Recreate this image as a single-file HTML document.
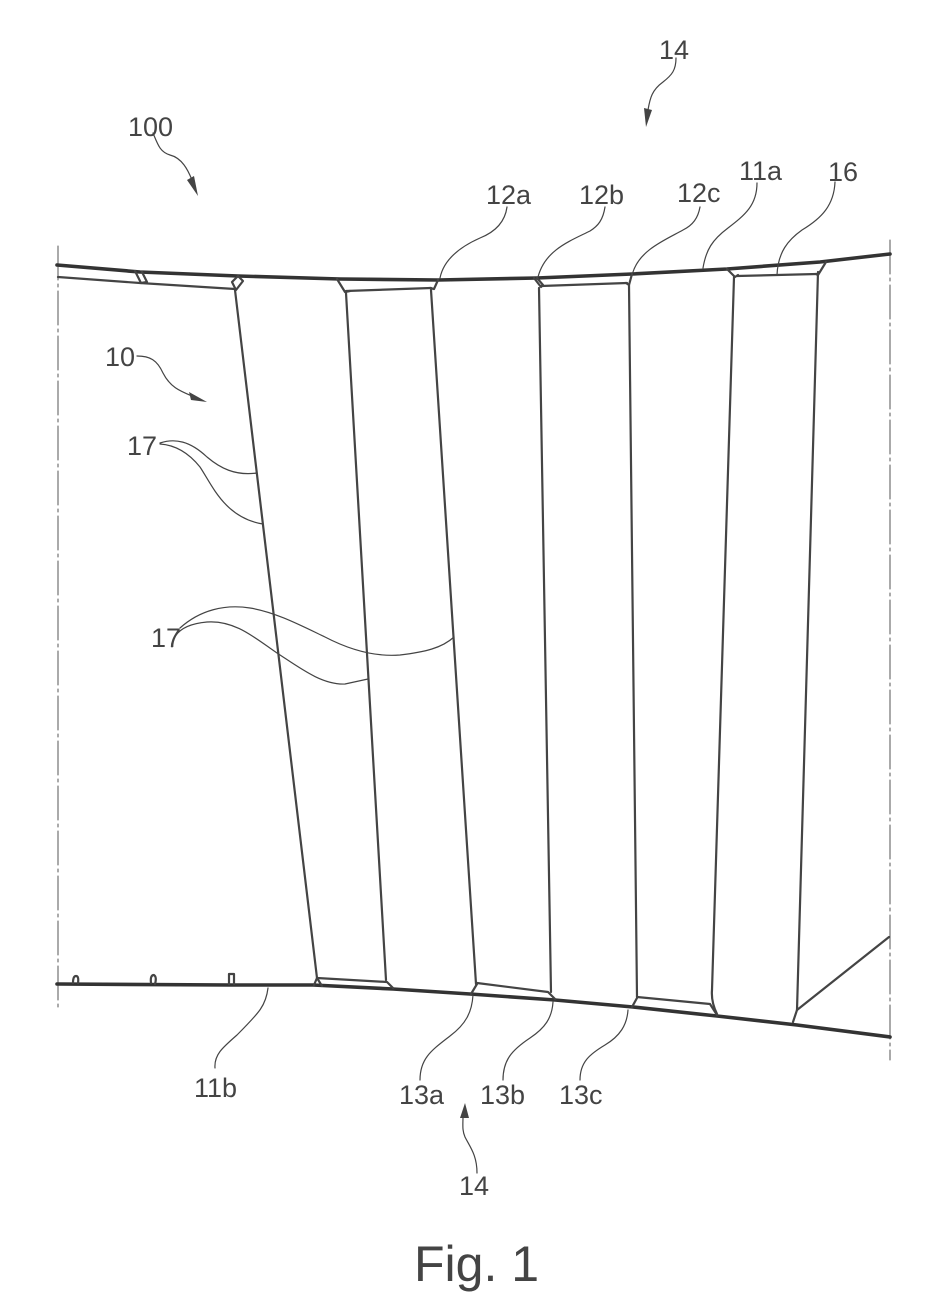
<!DOCTYPE html>
<html>
<head>
<meta charset="utf-8">
<style>
html,body{margin:0;padding:0;background:#fff}
svg{display:block}
text{font-family:"Liberation Sans",sans-serif;fill:#444;font-size:27px}
</style>
</head>
<body>
<svg width="935" height="1300" viewBox="0 0 935 1300" xmlns="http://www.w3.org/2000/svg">
<g fill="none" stroke-linejoin="round" stroke-linecap="round">
<!-- side break lines -->
<path d="M58 246V1008" stroke="#555" stroke-width="1" stroke-dasharray="34 4 3 4"/>
<path d="M890 240V1060" stroke="#555" stroke-width="1" stroke-dasharray="34 4 3 4"/>
<!-- main rails -->
<path d="M57 265L140 272L238 276L340 279L438 280L537 278L632 274L727 269L820 262L890 254" stroke="#333" stroke-width="3.6"/>
<path d="M57 984L230 985L270 985L313 985L393 989L470 994L555 1000L633 1007L717 1016L797 1025L890 1037" stroke="#333" stroke-width="3.6"/>
<!-- inner top lines -->
<g stroke="#444" stroke-width="2.2">
<path d="M58 277L140 283L235 289"/>
<path d="M346 291L431 288"/>
<path d="M541 286L627 283"/>
<path d="M737 276L817 274"/>
<!-- top nodes -->
<path d="M238 276L243 281L236 290L232 282Z"/>
<path d="M337 279L345 292L350 291"/>
<path d="M438 280L434 289L430 288"/>
<path d="M534 278L541 287L543 285L537 278"/>
<path d="M632 274L629 285L626 283"/>
<path d="M727 269L735 277L738 275"/>
<path d="M826 262L818 275L816 274"/>
<!-- ribs -->
<path d="M235 290L317 978"/>
<path d="M346 293L386 980"/>
<path d="M431 290L476 984"/>
<path d="M539 288L551 992"/>
<path d="M629 285L637 997"/>
<path d="M734 277L712 990Q711 1002 717 1014"/>
<path d="M818 272L797 1010L793 1022"/>
<!-- inner bottom lines -->
<path d="M317 978L387 982L393 988"/>
<path d="M314 985L317 978L322 986"/>
<path d="M477 983L548 992L555 999"/>
<path d="M477 984L471 994"/>
<path d="M637 997L710 1004L717 1015"/>
<path d="M637 998L632 1007"/>
<path d="M797 1010L889 937"/>
<!-- small marks -->
<path d="M135 271L141 283L147 282L142 272"/>
<path d="M73 983Q73 976 76 976Q79 976 78 983"/>
<path d="M151 983Q150 975 154 975Q157 977 155 984"/>
<path d="M229 984V974H234V984"/>
</g>
<!-- leaders -->
<g stroke="#444" stroke-width="1.2">
<path d="M507 207C505 222 495 232 480 238C462 246 444 258 440 278"/>
<path d="M605 207C603 220 598 226 590 231C570 241 545 250 538 277"/>
<path d="M700 207C698 218 693 225 683 230C665 240 640 250 633 272"/>
<path d="M757 183C757 205 745 215 728 228C712 240 706 250 703 268"/>
<path d="M835 182C834 205 822 218 802 230C788 240 778 252 777 275"/>
<path d="M160 443C175 438 190 441 207 457C220 468 235 476 257 473"/>
<path d="M160 444C175 445 188 452 200 467C212 485 225 518 263 524"/>
<path d="M180 628C200 610 225 604 250 608C275 612 300 625 325 637C350 650 375 657 400 655C425 652 442 648 454 637"/>
<path d="M172 647C173 632 185 624 207 622C235 620 255 638 277 653C300 668 322 685 345 684L368 679"/>
<path d="M268 988C266 1005 260 1012 237 1035C222 1048 214 1055 215 1068"/>
<path d="M473 995C472 1012 466 1024 450 1036C432 1050 420 1058 420 1080"/>
<path d="M553 1002C552 1018 545 1028 530 1038C512 1050 503 1060 503 1080"/>
<path d="M628 1010C627 1025 620 1036 605 1045C590 1054 580 1062 580 1080"/>
<path d="M153 133C158 145 160 152 170 155C182 158 188 170 192 180"/>
<path d="M137 356C150 356 157 360 163 373C170 387 180 391 192 396"/>
<path d="M676 58C676 70 672 75 663 82C652 90 650 98 648 110"/>
<path d="M477 1173C477 1155 470 1147 465 1137C462 1130 463 1125 463 1116"/>
</g>
</g>
<!-- arrowheads -->
<g fill="#444" stroke="none">
<path d="M198 196L187 180L194 176Z"/>
<path d="M207 402L189 392L191 400Z"/>
<path d="M646 127L644 108L652 110Z"/>
<path d="M465 1103L460 1118L469 1118Z"/>
</g>
<text x="128" y="136">100</text>
<text x="659" y="59">14</text>
<text x="486" y="204">12a</text>
<text x="579" y="204">12b</text>
<text x="677" y="202">12c</text>
<text x="739" y="180">11a</text>
<text x="828" y="181">16</text>
<text x="105" y="366">10</text>
<text x="127" y="455">17</text>
<text x="151" y="647">17</text>
<text x="194" y="1097">11b</text>
<text x="399" y="1104">13a</text>
<text x="480" y="1104">13b</text>
<text x="559" y="1104">13c</text>
<text x="459" y="1195">14</text>
<text x="414" y="1281" style="font-size:50px">Fig. 1</text>
</svg>
</body>
</html>
